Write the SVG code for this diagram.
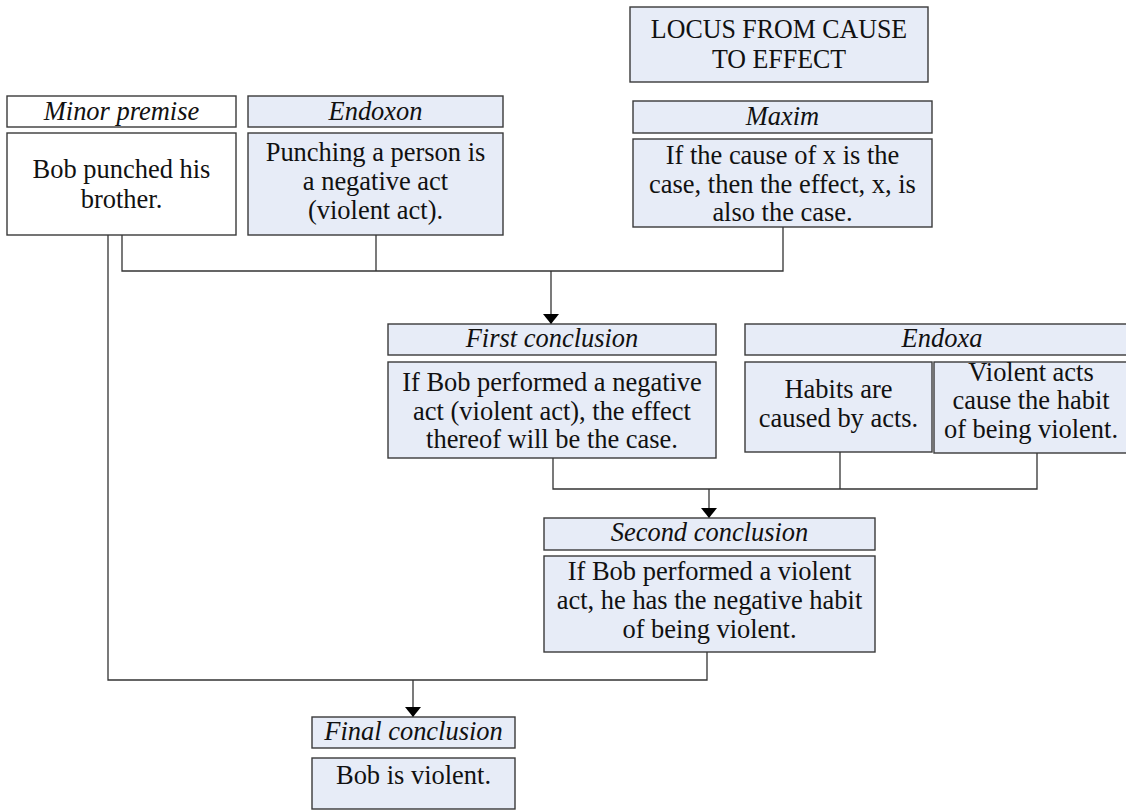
<svg xmlns="http://www.w3.org/2000/svg" width="1126" height="811" viewBox="0 0 1126 811">
<defs>
<style>
.box{fill:#e7ecf7;stroke:#3a3a3a;stroke-width:1.4}
.wbox{fill:#ffffff;stroke:#3a3a3a;stroke-width:1.4}
text{font-family:'Liberation Serif','Times New Roman','DejaVu Serif',serif;font-size:27px;fill:#111;text-anchor:middle}
.i{font-style:italic}
.c{fill:none;stroke:#333;stroke-width:1.3}
</style>
<marker id="ah" viewBox="0 0 10 16" refX="10" refY="8" markerWidth="10" markerHeight="16" markerUnits="userSpaceOnUse" orient="auto">
<path d="M0,0 L10,8 L0,16 z" fill="#000"/>
</marker>
</defs>
<rect width="1126" height="811" fill="#fff"/>

<g id="connectors">
<path class="c" d="M108,235 V680 H707 V652"/>
<path class="c" d="M122,235 V271 H783 V227"/>
<path class="c" d="M376,235 V271"/>
<path class="c" d="M551,271 V324" marker-end="url(#ah)"/>
<path class="c" d="M553,458 V489 H1037 V453"/>
<path class="c" d="M840,452 V489"/>
<path class="c" d="M709,489 V518" marker-end="url(#ah)"/>
<path class="c" d="M413,680 V717" marker-end="url(#ah)"/>
</g>

<g id="locus">
<rect class="box" x="630" y="7" width="298" height="75"/>
<g transform="translate(779,0) scale(0.96,1)">
<text x="0" y="38">LOCUS FROM CAUSE</text>
<text x="0" y="68">TO EFFECT</text>
</g>
</g>

<g id="minor-premise">
<rect class="wbox" x="7" y="96" width="229" height="31"/>
<rect class="wbox" x="7" y="133" width="229" height="102"/>
<g transform="translate(121.5,0) scale(0.98,1)">
<text class="i" x="0" y="120">Minor premise</text>
<text x="0" y="178">Bob punched his</text>
<text x="0" y="208">brother.</text>
</g>
</g>

<g id="endoxon">
<rect class="box" x="248" y="96" width="255" height="31"/>
<rect class="box" x="248" y="133" width="255" height="102"/>
<g transform="translate(375.5,0) scale(0.98,1)">
<text class="i" x="0" y="120">Endoxon</text>
<text x="0" y="161">Punching a person is</text>
<text x="0" y="190">a negative act</text>
<text x="0" y="219">(violent act).</text>
</g>
</g>

<g id="maxim">
<rect class="box" x="633" y="101" width="299" height="32"/>
<rect class="box" x="633" y="139" width="299" height="88"/>
<g transform="translate(782.5,0) scale(0.98,1)">
<text class="i" x="0" y="125">Maxim</text>
<text x="0" y="164.5">If the cause of x is the</text>
<text x="0" y="193">case, then the effect, x, is</text>
<text x="0" y="221.5">also the case.</text>
</g>
</g>

<g id="first-conclusion">
<rect class="box" x="388" y="324" width="328" height="31"/>
<rect class="box" x="388" y="362" width="328" height="96"/>
<g transform="translate(552,0) scale(0.98,1)">
<text class="i" x="0" y="347">First conclusion</text>
<text x="0" y="391">If Bob performed a negative</text>
<text x="0" y="420">act (violent act), the effect</text>
<text x="0" y="448.5">thereof will be the case.</text>
</g>
</g>

<g id="endoxa">
<rect class="box" x="745" y="324" width="395" height="31"/>
<rect class="box" x="745" y="362" width="187" height="90"/>
<rect class="box" x="934" y="362" width="200" height="91"/>
<g transform="translate(942,0) scale(0.98,1)">
<text class="i" x="0" y="347">Endoxa</text>
</g>
<g transform="translate(838.5,0) scale(0.98,1)">
<text x="0" y="398">Habits are</text>
<text x="0" y="427">caused by acts.</text>
</g>
<g transform="translate(1031,0) scale(0.98,1)">
<text x="0" y="381">Violent acts</text>
<text x="0" y="409.5">cause the habit</text>
<text x="0" y="438">of being violent.</text>
</g>
</g>

<g id="second-conclusion">
<rect class="box" x="544" y="518" width="331" height="32"/>
<rect class="box" x="544" y="556" width="331" height="96"/>
<g transform="translate(709.5,0) scale(0.98,1)">
<text class="i" x="0" y="541">Second conclusion</text>
<text x="0" y="580">If Bob performed a violent</text>
<text x="0" y="609">act, he has the negative habit</text>
<text x="0" y="638">of being violent.</text>
</g>
</g>

<g id="final-conclusion">
<rect class="box" x="312" y="717" width="203" height="31"/>
<rect class="box" x="312" y="758" width="203" height="51"/>
<g transform="translate(413.5,0) scale(0.98,1)">
<text class="i" x="0" y="740">Final conclusion</text>
<text x="0" y="784">Bob is violent.</text>
</g>
</g>
</svg>
